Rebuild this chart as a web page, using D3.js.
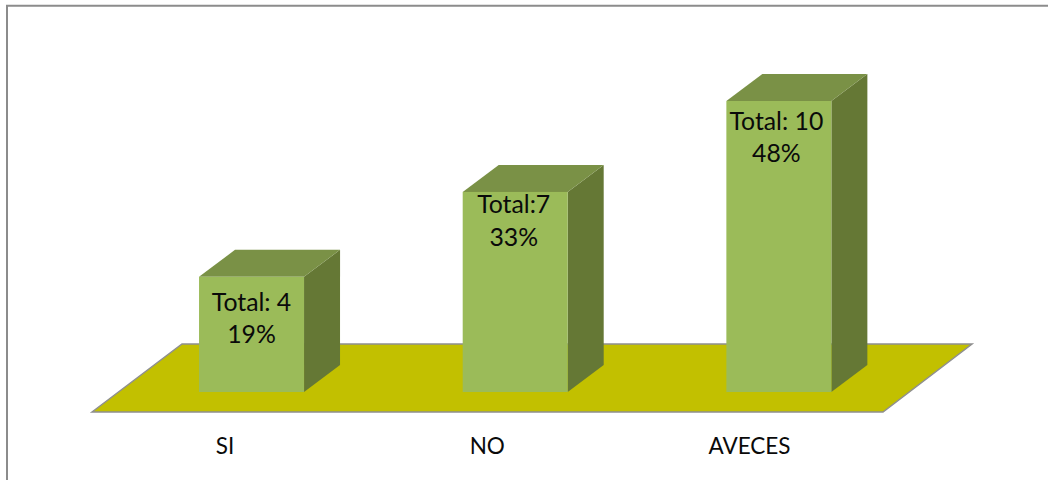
<!DOCTYPE html>
<html><head><meta charset="utf-8">
<script src="https://cdn.jsdelivr.net/npm/d3@7"></script>
<style>html,body{margin:0;padding:0;background:#fff}svg{display:block}</style>
</head><body><div id="c"></div>
<script>
const categories = ["SI","NO","AVECES"];
const totals = ["Total: 4","Total:7","Total: 10"];
const percents = [19,33,48];

const W=1048,H=480;
const svg=d3.select("#c").append("svg").attr("width",W).attr("height",H);
const font="Lato, Carlito, sans-serif";

// frame: only top and left edges are visible in the picture
svg.append("path").attr("d",d3.line()([[7,H],[7,5.7],[W,5.7]]))
  .attr("fill","none").attr("stroke","#8c8c8c").attr("stroke-width",2);

const x=d3.scaleBand().domain(categories).range([92,883]);
const xLabel=d3.scaleBand().domain(categories).range([93.9,880.6]);
const y=d3.scaleLinear().domain([0,48]).range([392,101]);
const dx=36,dy=-27,floorDx=90,floorFront=412,floorBack=344;
const barW=105,barShift=27.7;
// hand-placed label offsets from the bar's top edge, and from its centre
const labelDrop=[34.5,21.5,28.5], labelLead=[32,32.5,32.5], labelNudge=[0,-1.5,-2.5];

svg.append("path")
  .attr("d",d3.line()([[x.range()[0],floorFront],[x.range()[0]+floorDx,floorBack],[x.range()[1]+floorDx-1,floorBack],[x.range()[1],floorFront]])+"Z")
  .attr("fill","#c2c000").attr("stroke","#8f8f8f").attr("stroke-width",1.5);

const g=svg.selectAll("g.bar").data(categories).join("g").attr("class","bar");
const bx=c=>x(c)+barShift+(x.bandwidth()-barW)/2;
const v=c=>percents[categories.indexOf(c)];
const line=d3.line();

g.append("path").attr("fill","#657835").attr("d",c=>{
  const l=bx(c)+barW,t=y(v(c)),b=y(0);
  return line([[l,t],[l+dx,t+dy],[l+dx,b+dy],[l,b]])+"Z";});
g.append("path").attr("fill","#7a9146").attr("d",c=>{
  const l=bx(c),t=y(v(c));
  return line([[l,t],[l+dx,t+dy],[l+barW+dx,t+dy],[l+barW,t]])+"Z";});
g.append("rect").attr("fill","#9bbb59")
  .attr("x",bx).attr("y",c=>y(v(c))).attr("width",barW).attr("height",c=>y(0)-y(v(c)));

g.append("text").attr("x",(c,i)=>bx(c)+barW/2+labelNudge[i]).attr("y",(c,i)=>y(v(c))+labelDrop[i])
  .attr("text-anchor","middle").attr("font-family",font).attr("font-size",24.8).attr("fill","#0a0a0a")
  .text((c,i)=>totals[i]);
g.append("text").attr("x",(c,i)=>bx(c)+barW/2+labelNudge[i]).attr("y",(c,i)=>y(v(c))+labelDrop[i]+labelLead[i])
  .attr("text-anchor","middle").attr("font-family",font).attr("font-size",24.8).attr("fill","#0a0a0a")
  .text((c,i)=>percents[i]+"%");

const axis=d3.axisBottom(xLabel).tickSize(0).tickPadding(26);
const ax=svg.append("g").attr("transform",`translate(0,${floorFront})`).call(axis);
ax.select(".domain").remove();
ax.selectAll("text").attr("font-family",font).attr("font-size",22.5).attr("fill","#0a0a0a");
</script></body></html>
